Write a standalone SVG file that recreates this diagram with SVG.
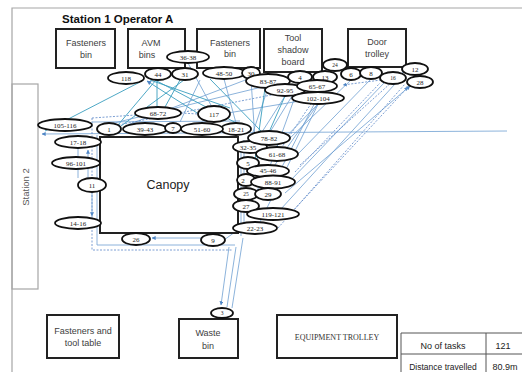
<svg xmlns="http://www.w3.org/2000/svg" width="522" height="372" viewBox="0 0 522 372">
<defs>
<style>
.frame{fill:none;stroke:#a6a6a6;stroke-width:1.2}
.box{fill:#fff;stroke:#222;stroke-width:2}
.nd{fill:#fff;stroke:#111;stroke-width:1.8}
.nt{font-family:"Liberation Serif",serif;font-size:7px;fill:#222;text-anchor:middle}
.bt{font-family:"Liberation Sans",Arial,sans-serif;font-size:9px;fill:#404040;text-anchor:middle}
.tt{font-family:"Liberation Sans",Arial,sans-serif;font-size:9px;fill:#222;text-anchor:middle}
.c1{stroke:#6f9fd2;stroke-width:0.8;fill:none}
.c2{stroke:#3a9ebe;stroke-width:0.9;fill:none}
.c3{stroke:#5a86c8;stroke-width:0.8;fill:none;stroke-dasharray:2 1.5}
</style>
<marker id="ar" viewBox="0 0 6 6" refX="5.5" refY="3" markerWidth="5" markerHeight="5" orient="auto">
<path d="M0,0 L6,3 L0,6 z" fill="#4f86c6"/>
</marker>
</defs>
<rect width="522" height="372" fill="#fff"/>

<g id="frame">
<path class="frame" d="M522,8 H12 V372"/>
<rect class="frame" x="12" y="84" width="26" height="205"/>
<text x="0" y="0" transform="translate(29,187) rotate(-90)" style="font-family:'Liberation Sans',Arial,sans-serif;font-size:9.5px;fill:#595959;text-anchor:middle">Station 2</text>
<text x="62" y="23" style="font-family:'Liberation Sans',Arial,sans-serif;font-size:11.5px;font-weight:bold;fill:#111">Station 1 Operator A</text>
</g>

<g id="connectors">
<line class="c1" x1="507" y1="131" x2="42" y2="134" marker-end="url(#ar)"/>
<line class="c3" x1="92" y1="118" x2="136" y2="115"/>
<line class="c3" x1="181" y1="113" x2="198" y2="114"/>
<path class="c3" d="M92,118 V250 H232"/>
<path class="c1" d="M97,135 V245 H235"/>
<line class="c1" x1="92" y1="122" x2="240" y2="121"/>
<line class="c1" x1="78" y1="148" x2="78" y2="178"/>
<line class="c1" x1="88" y1="178" x2="88" y2="150" marker-end="url(#ar)"/>
<line class="c1" x1="92" y1="192" x2="92" y2="216" marker-end="url(#ar)"/>
<line class="c2" x1="118" y1="125" x2="156" y2="80"/>
<line class="c2" x1="121" y1="126" x2="184" y2="80"/>
<line class="c1" x1="130" y1="124" x2="248" y2="79"/>
<line class="c1" x1="110" y1="124" x2="262" y2="87"/>
<line class="c3" x1="108" y1="127" x2="312" y2="87"/>
<line class="c2" x1="45" y1="131" x2="140" y2="82"/>
<line class="c2" x1="150" y1="80" x2="230" y2="108"/>
<line class="c2" x1="155" y1="80" x2="240" y2="125"/>
<line class="c2" x1="157" y1="80" x2="157" y2="107"/>
<line class="c2" x1="180" y1="80" x2="165" y2="107"/>
<line class="c1" x1="188" y1="63" x2="212" y2="107"/>
<line class="c2" x1="205" y1="118" x2="147" y2="81" marker-end="url(#ar)"/>
<line class="c1" x1="200" y1="80" x2="180" y2="122"/>
<line class="c1" x1="224" y1="79" x2="236" y2="123"/>
<line class="c2" x1="210" y1="79" x2="262" y2="132"/>
<line class="c1" x1="251" y1="79" x2="255" y2="140"/>
<line class="c1" x1="268" y1="88" x2="250" y2="141"/>
<line class="c1" x1="285" y1="96" x2="262" y2="132"/>
<line class="c1" x1="300" y1="83" x2="270" y2="132"/>
<line class="c1" x1="318" y1="104" x2="275" y2="148"/>
<line class="c3" x1="325" y1="83" x2="280" y2="150"/>
<line class="c1" x1="228" y1="113" x2="318" y2="98"/>
<line class="c3" x1="290" y1="214" x2="408" y2="87" marker-end="url(#ar)"/>
<line class="c1" x1="285" y1="193" x2="410" y2="86" marker-end="url(#ar)"/>
<line class="c1" x1="290" y1="181" x2="384" y2="83"/>
<line class="c3" x1="295" y1="172" x2="380" y2="83"/>
<line class="c1" x1="298" y1="154" x2="371" y2="79"/>
<line class="c1" x1="290" y1="138" x2="351" y2="80"/>
<line class="c3" x1="278" y1="228" x2="405" y2="84"/>
<line class="c1" x1="270" y1="221" x2="395" y2="84"/>
<line class="c3" x1="300" y1="165" x2="403" y2="72"/>
<line class="c3" x1="381" y1="80" x2="343" y2="85" marker-end="url(#ar)"/>
<line class="c1" x1="260" y1="222" x2="335" y2="70"/>
<line class="c1" x1="265" y1="200" x2="325" y2="83"/>
<line class="c1" x1="262" y1="188" x2="300" y2="83"/>
<line class="c1" x1="250" y1="200" x2="318" y2="104"/>
<line class="c2" x1="255" y1="160" x2="265" y2="88"/>
<line class="c2" x1="250" y1="175" x2="285" y2="96"/>
<line class="c1" x1="241" y1="145" x2="241" y2="236"/>
<line class="c1" x1="244" y1="140" x2="244" y2="232"/>
<line class="c1" x1="229" y1="247" x2="221" y2="305" marker-end="url(#ar)"/>
<line class="c1" x1="236" y1="247" x2="227" y2="307"/>
<line class="c1" x1="243" y1="238" x2="232" y2="308"/>
<line class="c1" x1="201" y1="238" x2="152" y2="238" marker-end="url(#ar)"/>
<line class="c1" x1="235" y1="232" x2="224" y2="240"/>
</g>

<g id="canopy"><rect class="box" x="100" y="137" width="138" height="96"/><text x="168" y="189" style="font-family:'Liberation Sans',Arial,sans-serif;font-size:12.5px;fill:#222;text-anchor:middle">Canopy</text></g>
<g id="fasteners-bin-1"><rect class="box" x="56" y="29" width="59" height="39"/><text class="bt" x="86" y="46">Fasteners</text><text class="bt" x="86" y="58">bin</text></g>
<g id="avm-bins"><rect class="box" x="128" y="29" width="57" height="39"/><text class="bt" x="151" y="46">AVM</text><text class="bt" x="147" y="58">bins</text></g>
<g id="fasteners-bin-2"><rect class="box" x="197" y="29" width="63" height="39"/><text class="bt" x="230" y="46">Fasteners</text><text class="bt" x="230" y="57">bin</text></g>
<g id="tool-shadow-board"><rect class="box" x="264" y="29" width="58" height="43"/><text class="bt" x="293" y="41">Tool</text><text class="bt" x="293" y="53">shadow</text><text class="bt" x="293" y="65">board</text></g>
<g id="door-trolley"><rect class="box" x="348" y="29" width="58" height="38"/><text class="bt" x="377" y="45">Door</text><text class="bt" x="377" y="57">trolley</text></g>
<g id="fasteners-table"><rect class="box" x="47" y="315" width="72" height="43"/><text class="bt" x="83" y="334">Fasteners and</text><text class="bt" x="83" y="346">tool table</text></g>
<g id="waste-bin"><rect class="box" x="179" y="319" width="59" height="39"/><text class="bt" x="208" y="336">Waste</text><text class="bt" x="208" y="349">bin</text></g>
<g id="equipment-trolley"><rect class="box" x="277" y="315" width="120" height="43"/><text x="337" y="340" style="font-family:'Liberation Serif',serif;font-size:8px;fill:#333;text-anchor:middle">EQUIPMENT TROLLEY</text></g>

<g id="n118"><ellipse class="nd" cx="126" cy="78" rx="18" ry="6"/><text class="nt" x="126" y="80.5">118</text></g>
<g id="n44"><ellipse class="nd" cx="158" cy="74" rx="13" ry="6"/><text class="nt" x="158" y="76.5">44</text></g>
<g id="n31"><ellipse class="nd" cx="185" cy="74" rx="13" ry="6"/><text class="nt" x="185" y="76.5">31</text></g>
<g id="n36-38"><ellipse class="nd" cx="188" cy="57" rx="21" ry="6"/><text class="nt" x="188" y="59.5">36-38</text></g>
<g id="n48-50"><ellipse class="nd" cx="224" cy="73" rx="21" ry="6"/><text class="nt" x="224" y="75.5">48-50</text></g>
<g id="n30"><ellipse class="nd" cx="251" cy="73" rx="9" ry="6"/><text class="nt" x="251" y="75.5">30</text></g>
<g id="n83-87"><ellipse class="nd" cx="268" cy="81" rx="22" ry="7"/><text class="nt" x="268" y="83.5">83-87</text></g>
<g id="n4"><ellipse class="nd" cx="300" cy="77" rx="12" ry="6"/><text class="nt" x="300" y="79.5">4</text></g>
<g id="n24"><ellipse class="nd" cx="335" cy="65" rx="12" ry="6"/><text class="nt" x="335" y="67" style="font-size:5.5px">24</text></g>
<g id="n13"><ellipse class="nd" cx="325" cy="77" rx="12" ry="6"/><text class="nt" x="325" y="79.5">13</text></g>
<g id="n92-95"><ellipse class="nd" cx="285" cy="90" rx="20" ry="6"/><text class="nt" x="285" y="92.5">92-95</text></g>
<g id="n65-67"><ellipse class="nd" cx="317" cy="86" rx="20" ry="6"/><text class="nt" x="317" y="88.5">65-67</text></g>
<g id="n102-104"><ellipse class="nd" cx="318" cy="98" rx="26" ry="6"/><text class="nt" x="318" y="100.5">102-104</text></g>
<g id="n6"><ellipse class="nd" cx="351" cy="74" rx="10" ry="6"/><text class="nt" x="351" y="76.5">6</text></g>
<g id="n8"><ellipse class="nd" cx="371" cy="73" rx="11" ry="6"/><text class="nt" x="371" y="75.5">8</text></g>
<g id="n16"><ellipse class="nd" cx="393" cy="78" rx="13" ry="6"/><text class="nt" x="393" y="80" style="font-size:5.5px">16</text></g>
<g id="n12"><ellipse class="nd" cx="415" cy="69" rx="13" ry="6"/><text class="nt" x="415" y="71.5">12</text></g>
<g id="n28"><ellipse class="nd" cx="420" cy="82" rx="13" ry="6"/><text class="nt" x="420" y="84.5">28</text></g>

<g id="n68-72"><ellipse class="nd" cx="158" cy="113" rx="23" ry="6"/><text class="nt" x="158" y="115.5">68-72</text></g>
<g id="n117"><ellipse class="nd" cx="214" cy="114" rx="16" ry="8"/><text class="nt" x="214" y="116.5">117</text></g>
<g id="n105-116"><ellipse class="nd" cx="65" cy="125" rx="27" ry="6"/><text class="nt" x="65" y="127.5">105-116</text></g>
<g id="n1"><ellipse class="nd" cx="109" cy="129" rx="12" ry="6"/><text class="nt" x="109" y="131.5">1</text></g>
<g id="n39-43"><ellipse class="nd" cx="145" cy="129" rx="22" ry="6"/><text class="nt" x="145" y="131.5">39-43</text></g>
<g id="n7"><ellipse class="nd" cx="173" cy="128" rx="8" ry="5"/><text class="nt" x="173" y="130.5">7</text></g>
<g id="n18-21"><ellipse class="nd" cx="236" cy="129" rx="15" ry="6"/><text class="nt" x="236" y="131.5">18-21</text></g>
<g id="n51-60"><ellipse class="nd" cx="202" cy="129" rx="21" ry="6"/><text class="nt" x="202" y="131.5">51-60</text></g>
<g id="n17-18"><ellipse class="nd" cx="78" cy="142" rx="23" ry="6"/><text class="nt" x="78" y="144.5">17-18</text></g>
<g id="n96-101"><ellipse class="nd" cx="76" cy="163" rx="24" ry="6"/><text class="nt" x="76" y="165.5">96-101</text></g>
<g id="n11"><ellipse class="nd" cx="92" cy="185" rx="14" ry="7"/><text class="nt" x="92" y="187.5">11</text></g>
<g id="n14-16"><ellipse class="nd" cx="78" cy="223" rx="23" ry="6"/><text class="nt" x="78" y="225.5">14-16</text></g>
<g id="n26"><ellipse class="nd" cx="136" cy="239" rx="14" ry="6"/><text class="nt" x="136" y="241.5">26</text></g>
<g id="n9"><ellipse class="nd" cx="213" cy="240" rx="12" ry="6"/><text class="nt" x="213" y="242.5">9</text></g>

<g id="n32-35"><ellipse class="nd" cx="250" cy="147" rx="17" ry="6"/><text class="nt" x="248" y="149.5">32-35</text></g>
<g id="n78-82"><ellipse class="nd" cx="269" cy="138" rx="21" ry="7"/><text class="nt" x="269" y="140.5">78-82</text></g>
<g id="n61-68"><ellipse class="nd" cx="277" cy="154" rx="21" ry="7"/><text class="nt" x="277" y="156.5">61-68</text></g>
<g id="n5"><ellipse class="nd" cx="248" cy="163" rx="11" ry="6"/><text class="nt" x="248" y="165.5">5</text></g>
<g id="n45-46"><ellipse class="nd" cx="268" cy="171" rx="21" ry="6"/><text class="nt" x="268" y="172.5">45-46</text></g>
<g id="n2"><ellipse class="nd" cx="246" cy="180" rx="9" ry="6"/><text class="nt" x="243" y="182.5">2</text></g>
<g id="n88-91"><ellipse class="nd" cx="273" cy="182" rx="22" ry="6.5"/><text class="nt" x="273" y="184.5">88-91</text></g>
<g id="n25"><ellipse class="nd" cx="246" cy="194" rx="12" ry="6"/><text class="nt" x="246" y="196" style="font-size:5.5px">25</text></g>
<g id="n29"><ellipse class="nd" cx="268" cy="194" rx="13" ry="6"/><text class="nt" x="268" y="196.5">29</text></g>
<g id="n27"><ellipse class="nd" cx="246" cy="206" rx="13" ry="6"/><text class="nt" x="246" y="208.5">27</text></g>
<g id="n119-121"><ellipse class="nd" cx="273" cy="214" rx="26" ry="6"/><text class="nt" x="273" y="216.5">119-121</text></g>
<g id="n22-23"><ellipse class="nd" cx="255" cy="228" rx="22" ry="6"/><text class="nt" x="255" y="230.5">22-23</text></g>
<g id="n3"><ellipse class="nd" cx="222" cy="313" rx="11" ry="5"/><text class="nt" x="222" y="315" style="font-size:5.5px">3</text></g>

<g id="summary-table">
<path d="M522,333 H401 V372 M401,354 H522 M486,333 V372" fill="none" stroke="#555" stroke-width="1"/>
<text class="tt" x="443" y="349">No of tasks</text>
<text class="tt" x="503" y="349">121</text>
<text class="tt" x="443" y="370" style="font-size:8.5px">Distance travelled</text>
<text class="tt" x="505" y="370">80.9m</text>
</g>
</svg>
